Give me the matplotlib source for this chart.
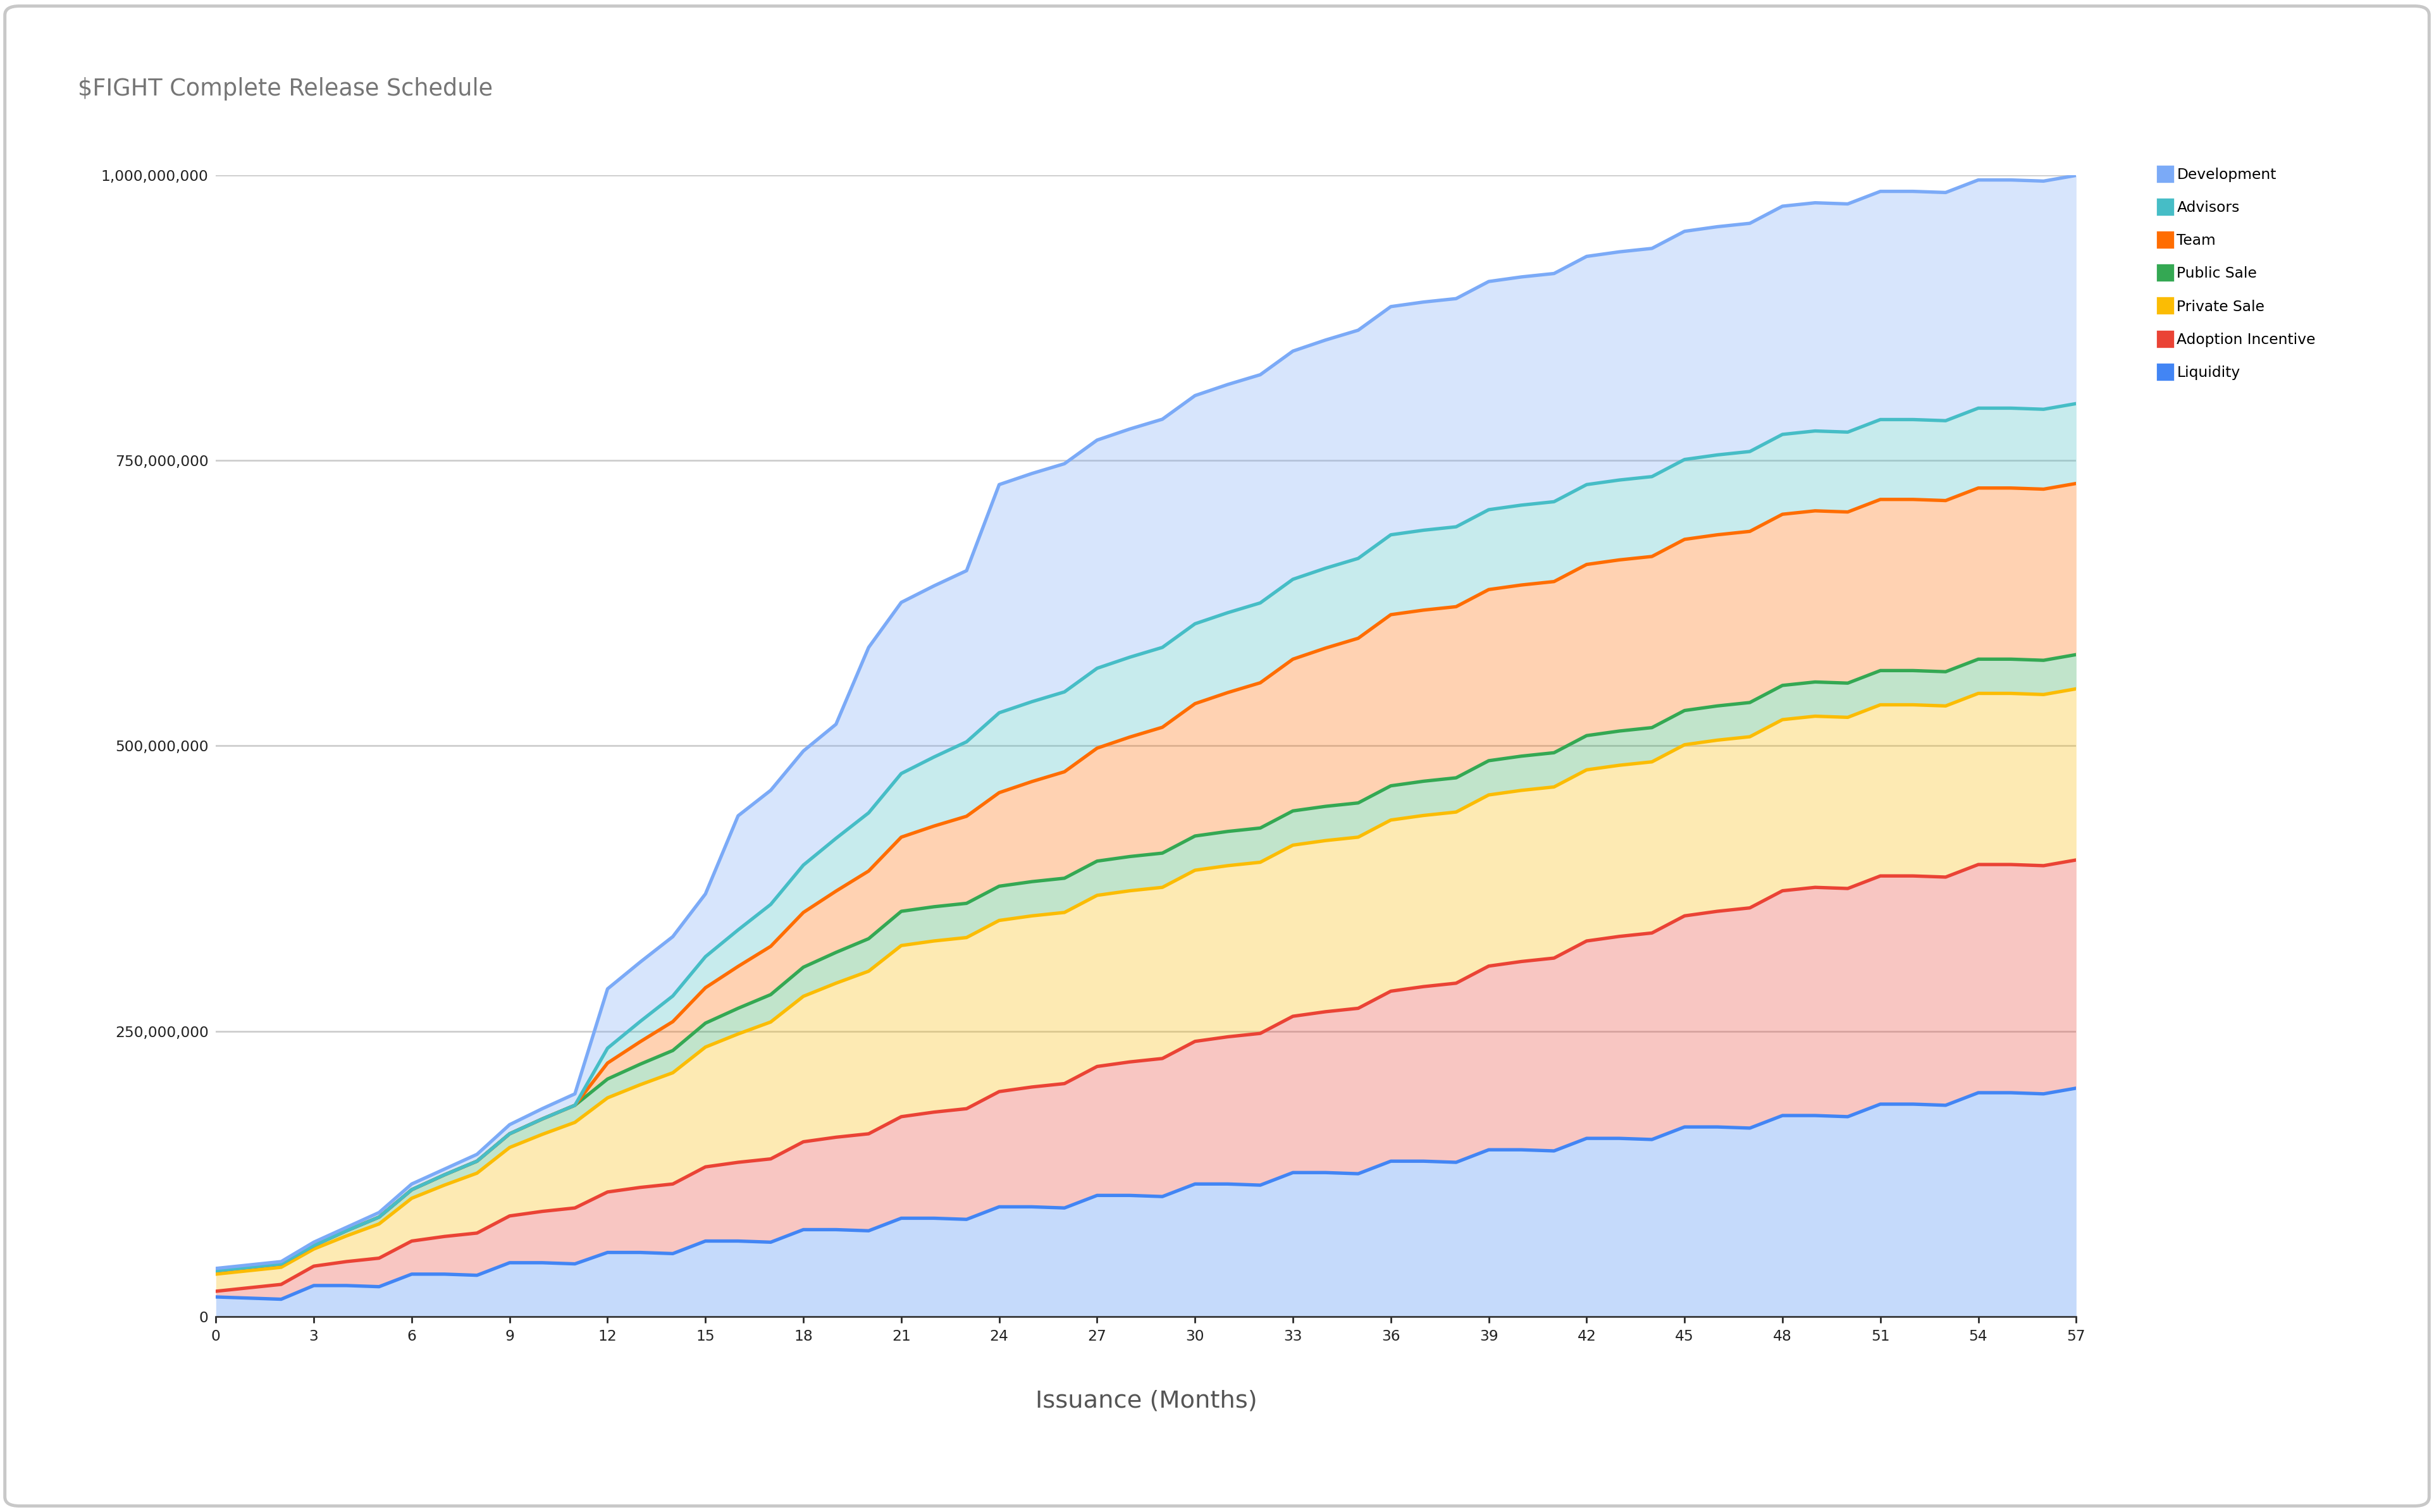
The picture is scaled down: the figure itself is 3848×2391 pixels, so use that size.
import matplotlib
matplotlib.use("Agg")
import matplotlib.pyplot as plt
from matplotlib.patches import FancyBboxPatch
from matplotlib.lines import Line2D
from matplotlib.ticker import FuncFormatter

months = list(range(58))
liquidity = [17,16,15,27,27,26,37,37,36,47,47,46,56,56,55,66,66,65,76,76,75,86,86,85,96,96,95,
             106,106,105,116,116,115,126,126,125,136,136,135,146,146,145,156,156,155,166,166,165,
             176,176,175,186,186,185,196,196,195,200]
adoption = [5,9,13,17,21,25,29,33,37,41,45,49,53,57,61,65,69,73,77,81,85,89,93,97,101,105,109,
            113,117,121,125,129,133,137,141,145,149,153,157,161,165,169,173,177,181,185,189,193,
            197,200,200,200,200,200,200,200,200,200]
private_sale = [15,15,15,15,22.5,30,37.5,45,52.5,60,67.5,75,82.5,90,97.5,105,112.5,120,127.5,135,
                142.5] + [150]*37
public_sale = [3,3,3,3,4.5,6,7.5,9,10.5,12,13.5,15,16.5,18,19.5,21,22.5,24,25.5,27,28.5] + [30]*37
team = [0]*12 + [14,19.7,25.3,31,36.7,42.3,48,53.7,59.3,65,70.7,76.3,82,87.7,93.3,99,104.7,110.3,
                 116,121.7,127.3,133,138.7,144.3,150] + [150]*21
advisors = [0]*12 + [13,17.75,22.5,27.25,32,36.75,41.5,46.25,51,55.75,60.5,65.25,70] + [70]*33
development = [2,2,2,3,3,4,5,5,6,8,9,10,52,52,52,55,100,100,100,100,145,150,150,150] + [200]*34

names = ["Liquidity","Adoption Incentive","Private Sale","Public Sale","Team","Advisors","Development"]
colors = ["#4285F4","#EA4335","#FBBC04","#34A853","#FF6D01","#46BDC6","#7BAAF7"]
series = [liquidity, adoption, private_sale, public_sale, team, advisors, development]

fig = plt.figure(figsize=(3848/240, 2391/240), dpi=240)
fig.patches.append(FancyBboxPatch((0.002,0.004),0.996,0.992,boxstyle="round,pad=0,rounding_size=0.006",
                   transform=fig.transFigure, fc="white", ec="#c8c8c8", lw=1.5, zorder=-10))
ax = fig.add_axes([0.0887, 0.1294, 0.7643, 0.7546])
ax.set_facecolor("none")

base = [0.0]*58
for name, col, s in zip(names, colors, series):
    top = [b + v*1e6 for b, v in zip(base, s)]
    ax.fill_between(months, base, top, color=col, alpha=0.3, lw=0)
    ax.plot(months, top, color=col, lw=1.6)
    base = top

ax.set_xlim(0, 57)
ax.set_ylim(0, 1e9)
ax.set_xticks(range(0, 58, 3))
ax.set_yticks([0, 2.5e8, 5e8, 7.5e8, 1e9])
ax.yaxis.set_major_formatter(FuncFormatter(lambda v, p: f"{int(v):,}"))
ax.grid(axis="y", color="#cccccc", lw=0.8)
ax.set_axisbelow(True)
for sp in ["top","right","left"]:
    ax.spines[sp].set_visible(False)
ax.spines["bottom"].set_color("#333333")
ax.tick_params(axis="both", labelsize=7, length=0, colors="#222222")
ax.tick_params(axis="x", length=3, pad=3)
ax.set_xlabel("Issuance (Months)", fontsize=11.5, color="#555555", labelpad=22)

fig.text(0.032, 0.937, "$FIGHT Complete Release Schedule", fontsize=11, color="#757575")

handles = [Line2D([], [], marker="s", ls="", color=c, markersize=7) for c in colors][::-1]
fig.legend(handles, names[::-1], loc="upper left", bbox_to_anchor=(0.881, 0.898), frameon=False,
           fontsize=7, labelspacing=1.25, handletextpad=0.3, handlelength=1.0)

fig.savefig("out.png", dpi=240)
